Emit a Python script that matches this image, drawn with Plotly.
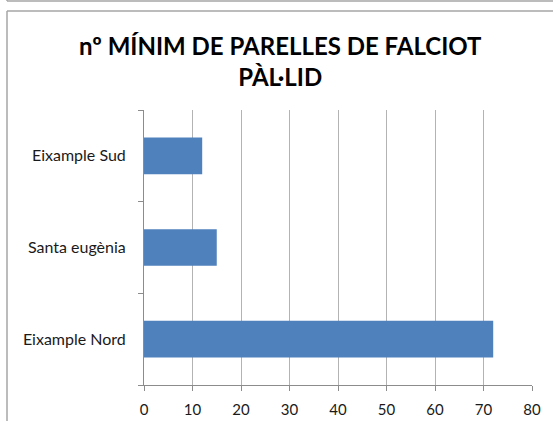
import plotly.graph_objects as go

categories = ["Eixample Nord", "Santa eugènia", "Eixample Sud"]
values = [72, 15, 12]
x_ticks = [0, 10, 20, 30, 40, 50, 60, 70, 80]
title_text = "nº MÍNIM DE PARELLES DE FALCIOT<br>PÀL·LID"

W, H = 553, 421
L, R, T, B = 144, 21, 110, 36
pw, ph = W - L - R, H - T - B

def px(x):
    return (x - L) / pw

def py(y):
    return (H - B - y) / ph

fig = go.Figure(go.Bar(
    y=categories, x=values, orientation="h",
    marker=dict(color="#4f81bd", line=dict(width=0)),
))

border = "#a6a6a6"
shapes = [
    dict(type="line", xref="paper", yref="paper", x0=px(7), x1=px(560), y0=py(11), y1=py(11),
         line=dict(color=border, width=1.5)),
    dict(type="line", xref="paper", yref="paper", x0=px(7), x1=px(7), y0=py(11), y1=py(430),
         line=dict(color=border, width=1.5)),
    dict(type="line", xref="paper", yref="paper", x0=px(7), x1=px(560), y0=py(1), y1=py(1),
         line=dict(color=border, width=1.5)),
    dict(type="line", xref="paper", yref="paper", x0=px(7), x1=px(7), y0=py(-5), y1=py(1),
         line=dict(color=border, width=1.5)),
]

fig.update_layout(
    width=W, height=H,
    margin=dict(l=L, r=R, t=T, b=B),
    paper_bgcolor="white", plot_bgcolor="white",
    bargap=0.6,
    showlegend=False,
    shapes=shapes,
    annotations=[dict(text="<b>" + title_text + "</b>", xref="paper", yref="paper",
                      x=px(280), y=py(61), xanchor="center", yanchor="middle",
                      showarrow=False, font=dict(family="Lato", size=24, color="#000000"),
                      align="center")],
    font=dict(family="Lato", size=15, color="#1a1a1a"),
)
fig.update_xaxes(range=[0, 80], tickvals=x_ticks, showgrid=True, gridcolor="#b3b3b3", gridwidth=1,
                 showline=True, linecolor="#8c8c8c", linewidth=1, ticks="outside", ticklen=5,
                 tickcolor="#8c8c8c", zeroline=False, fixedrange=True, tickfont=dict(size=15),
                 ticklabelstandoff=6, automargin=False)
fig.update_yaxes(categoryorder="array", categoryarray=categories, showgrid=False,
                 showline=True, linecolor="#8c8c8c", linewidth=1, ticks="outside", ticklen=5,
                 tickcolor="#8c8c8c", tickson="boundaries", tickfont=dict(size=16),
                 ticklabelstandoff=14, automargin=False)

fig.write_html("out.html", config={"displayModeBar": False},
               post_script="document.body.style.margin='0px';document.body.style.overflow='hidden';")
